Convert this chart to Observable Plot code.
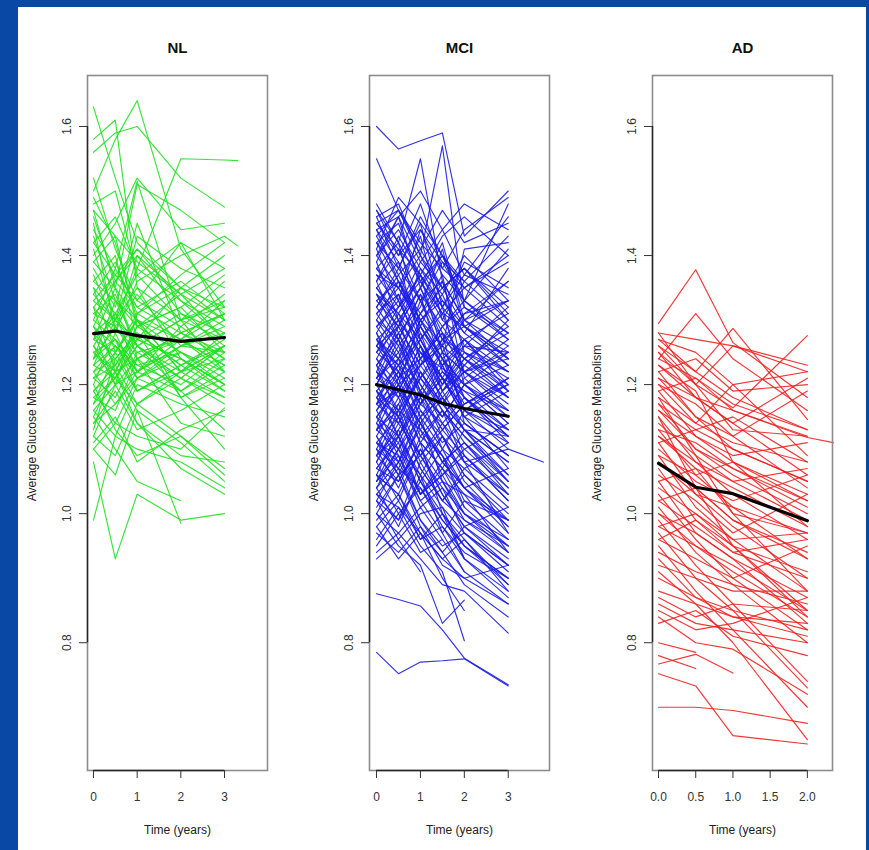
<!DOCTYPE html>
<html>
<head>
<meta charset="utf-8">
<script src="https://cdn.jsdelivr.net/npm/d3@7"></script>
<script src="https://cdn.jsdelivr.net/npm/@observablehq/plot@0.6"></script>
<style>
  html, body { margin: 0; padding: 0; }
  body { width: 869px; height: 850px; background: #0a48a6; position: relative; overflow: hidden; font-family: "Liberation Sans", Arial, sans-serif; }
  #sheet { position: absolute; left: 18px; top: 7px; width: 848px; height: 843px; background: #ffffff; }
  .panel { position: absolute; top: 7px; }
</style>
</head>
<body>
<div id="sheet"></div>
<div id="p0" class="panel" style="left:18px"></div>
<div id="p1" class="panel" style="left:300px"></div>
<div id="p2" class="panel" style="left:583px"></div>
<script>
// ---------- data ----------
const groups = ["NL", "MCI", "AD"];
const yTicks = [0.8, 1.0, 1.2, 1.4, 1.6];
const nlTicks = [0, 1, 2, 3];
const mciTicks = [0, 1, 2, 3];
const adTicks = [0, 0.5, 1, 1.5, 2];

const nlTimes = [0, 0.5, 1, 2, 3, 3.3];
const nlSubjects = [
  [1.63,1.52,1.42,1.35,null],[1.58,1.61,1.35,1.30,1.32],[1.50,1.58,1.64,1.41,1.32],
  [1.56,1.59,1.60,1.52,1.475],[1.33,1.30,1.38,1.55,1.548,1.547],[1.40,1.45,1.52,1.44,1.45],
  [1.30,1.38,1.515,1.30,1.22],[1.47,1.35,1.51,1.47,1.42],[1.08,0.93,1.03,0.99,1.00],
  [0.99,1.12,1.10,1.08,1.04],[1.10,1.06,1.16,0.985,null],[1.49,1.42,1.30,1.25,1.20],
  [1.45,1.28,1.36,1.40,1.43,1.415],[1.42,1.46,1.38,1.33,1.29],[1.38,1.32,1.45,1.28,1.31],
  [1.36,1.40,1.27,1.35,1.40],[1.35,1.25,1.30,1.22,1.26],[1.33,1.37,1.33,1.42,1.30],
  [1.32,1.22,1.24,1.27,1.33],[1.31,1.34,1.26,1.21,1.18],[1.29,1.36,1.41,1.33,1.27],
  [1.28,1.20,1.22,1.26,1.25],[1.27,1.30,1.35,1.24,1.20],[1.26,1.31,1.22,1.29,1.34],
  [1.25,1.27,1.19,1.22,1.24],[1.24,1.33,1.30,1.18,1.21],[1.23,1.21,1.27,1.31,1.28],
  [1.22,1.26,1.23,1.20,1.25],[1.21,1.18,1.25,1.27,1.22],[1.20,1.28,1.21,1.24,1.19],
  [1.19,1.23,1.17,1.21,1.26],[1.18,1.16,1.24,1.14,1.12],[1.17,1.25,1.19,1.23,null],
  [1.16,1.12,1.20,1.17,1.15],[1.15,1.22,1.14,1.09,1.08],[1.14,1.19,1.13,1.16,1.20],
  [1.12,1.09,1.17,1.12,1.06],[1.11,1.15,1.08,1.13,1.16],[1.13,1.24,1.28,1.18,1.10],
  [1.44,1.38,1.32,1.36,1.31],[1.41,1.30,1.43,1.38,1.35],[1.39,1.43,1.29,1.32,1.37],
  [1.37,1.29,1.34,1.26,1.28],[1.34,1.39,1.31,1.37,1.42],[1.46,1.36,1.40,1.31,1.26],
  [1.52,1.41,1.33,1.29,1.24],[1.48,1.50,1.37,1.42,1.38],[1.43,1.33,1.26,1.21,1.17],
  [1.26,1.20,1.31,1.35,1.30],[1.24,1.29,1.24,1.19,1.23],[1.22,1.17,1.21,1.26,1.29],
  [1.28,1.24,1.28,1.23,1.26],[1.30,1.27,1.23,1.25,null],[1.21,1.25,1.30,1.22,1.18],
  [1.19,1.14,1.21,1.25,1.22],[1.17,1.21,1.26,1.19,1.24],[1.27,1.35,1.24,1.28,1.31],
  [1.35,1.31,1.37,1.30,1.33],[1.32,1.28,1.40,1.34,1.27],[1.25,1.22,1.16,1.11,1.05],
  [1.20,1.13,1.09,1.12,1.07],[1.15,1.10,1.05,1.02,null],[1.12,1.20,1.14,1.07,1.03],
  [1.23,1.30,1.26,1.30,1.36],[1.29,1.23,1.29,1.32,1.25],[1.10,1.14,1.12,1.10,1.164],
  [1.26,1.22,1.29,1.25,1.21],[1.24,1.27,1.22,1.26,1.30],[1.22,1.24,1.19,1.23,1.27],
  [1.27,1.25,1.31,1.27,1.23],[1.25,1.21,1.26,1.22,1.28],[1.23,1.26,1.21,1.18,1.22],
  [1.29,1.26,1.22,1.27,1.31],[1.21,1.23,1.27,1.24,1.20],[1.31,1.29,1.25,1.21,1.26],
  [1.19,1.22,1.28,1.23,1.19],[1.34,1.30,1.27,1.24,1.20],[1.36,1.33,1.29,1.34,1.38],
  [1.18,1.21,1.17,1.22,1.26],[1.42,1.37,1.41,1.35,1.32],[1.14,1.17,1.22,1.19,1.13],
  [1.39,1.35,1.30,1.27,1.23],[1.32,1.36,1.32,1.28,1.24],[1.28,1.31,1.26,1.30,1.27],
  [1.16,1.20,1.24,1.28,1.25],[1.47,1.43,1.39,1.34,1.30]
];
const nlMeanTimes = [0, 0.5, 1, 2, 3];
const nlMean = [1.279, 1.283, 1.276, 1.267, 1.273];

const mciTimes = [0, 0.5, 1, 1.5, 2, 3, 3.8];
const mciSubjects = [
  [1.60,1.565,1.578,1.59,1.43,1.50],[1.55,1.47,1.40,1.35,1.38,1.30],[1.47,1.42,1.55,1.36,1.30,1.26],
  [1.46,1.48,1.40,1.57,1.32,null],[1.45,1.40,1.48,1.38,1.44,1.49],[1.44,1.46,1.35,1.42,1.30,1.33],
  [1.43,1.37,1.41,1.47,1.42,1.45],[1.42,1.45,1.36,1.30,1.27,1.22],[1.41,1.33,1.44,1.39,1.33,1.41],
  [1.40,1.44,1.38,1.34,1.40,1.33],[1.39,1.30,1.35,1.28,1.24,1.20],[1.38,1.42,1.29,1.36,1.25,1.19],
  [1.37,1.35,1.43,1.30,1.36,1.43],[1.36,1.28,1.32,1.41,1.29,1.24],[1.35,1.39,1.27,1.31,1.22,1.17],
  [1.34,1.31,1.37,1.25,1.30,1.36],[1.33,1.36,1.30,1.34,1.26,1.25],[1.32,1.27,1.34,1.22,1.18,1.12],
  [1.31,1.34,1.24,1.29,1.33,1.28],[1.30,1.25,1.31,1.37,1.21,1.15],[1.29,1.33,1.26,1.20,1.25,1.22],
  [1.28,1.22,1.29,1.24,1.16,1.10],[1.27,1.30,1.21,1.27,1.29,1.24],[1.26,1.21,1.28,1.19,1.23,1.30],
  [1.25,1.29,1.23,1.26,1.18,1.13],[1.24,1.18,1.25,1.21,1.27,1.19],[1.23,1.27,1.19,1.15,1.20,1.23],
  [1.22,1.16,1.24,1.28,1.14,1.09],[1.21,1.25,1.17,1.22,1.19,1.16],[1.20,1.14,1.22,1.16,1.12,1.05],
  [1.19,1.23,1.15,1.20,1.24,1.18],[1.18,1.12,1.19,1.13,1.17,1.21],[1.17,1.21,1.13,1.18,1.09,1.02],
  [1.16,1.10,1.17,1.23,1.15,1.11],[1.15,1.19,1.11,1.07,1.13,1.08],[1.14,1.08,1.16,1.12,1.05,0.98],
  [1.13,1.17,1.09,1.14,1.18,1.12],[1.12,1.06,1.14,1.08,1.11,1.04],[1.11,1.15,1.07,1.02,1.06,1.00],
  [1.10,1.04,1.12,1.09,1.01,0.95],[1.09,1.13,1.05,1.10,1.04,1.07],[1.08,1.02,1.10,1.03,0.98,0.93],
  [1.07,1.11,1.03,1.06,1.09,1.02],[1.06,1.00,1.04,0.99,0.95,0.89],[1.05,1.09,1.01,1.04,1.00,0.96],
  [1.04,0.98,1.06,0.97,1.02,0.99],[1.03,1.07,0.99,0.95,0.97,0.91],[1.02,0.96,1.00,1.01,0.93,0.87],
  [1.00,0.95,0.92,0.83,0.866,null],[0.99,1.03,0.96,0.98,0.94,0.90],[0.97,0.94,0.98,0.92,0.90,0.86],
  [0.95,1.00,0.94,0.96,0.91,null],[0.876,0.867,0.857,0.82,0.776,0.735],[0.785,0.752,0.77,0.772,0.775,0.733],
  [1.48,1.42,1.36,1.40,1.33,1.48],[1.46,1.38,1.45,1.32,1.37,1.46],[1.44,1.36,1.31,1.26,1.41,1.42],
  [1.40,1.35,1.30,1.33,1.28,1.38],[1.36,1.41,1.33,1.27,1.31,1.33],[1.33,1.29,1.38,1.32,1.20,1.25],
  [1.30,1.36,1.28,1.23,1.17,1.21],[1.27,1.24,1.33,1.25,1.22,1.18],[1.25,1.31,1.27,1.21,1.15,1.07],
  [1.23,1.19,1.26,1.17,1.21,1.26],[1.21,1.28,1.20,1.14,1.10,1.04],[1.19,1.15,1.21,1.25,1.16,1.13],
  [1.17,1.24,1.16,1.11,1.14,1.09],[1.15,1.12,1.18,1.10,1.07,1.01],[1.13,1.20,1.12,1.16,1.08,0.97],
  [1.11,1.08,1.15,1.05,1.03,0.94],[1.09,1.16,1.08,1.12,1.06,null],[1.07,1.05,1.11,1.00,0.96,0.88],
  [1.05,1.12,1.03,1.07,1.01,null],[1.03,0.99,1.08,1.02,0.99,0.95],[1.01,1.06,0.98,0.94,0.89,0.84],
  [0.98,0.93,0.97,0.90,0.85,null],[0.96,1.01,0.95,0.91,0.803,null],[0.94,0.97,0.93,0.89,0.88,0.815],
  [1.24,1.20,null,1.26,1.23,null],[1.35,1.30,1.25,null,1.20,1.14],[1.29,1.24,1.20,1.15,null,null],
  [1.18,1.23,1.19,null,null,null],[1.12,1.07,1.04,0.98,0.93,null],[1.26,1.32,1.37,1.31,1.35,1.40],
  [1.22,1.29,1.35,1.27,1.24,1.28],[1.14,1.21,1.27,1.20,1.26,1.22],[1.10,1.17,1.23,1.18,1.22,1.25],
  [1.06,1.13,1.19,1.15,1.20,1.16],[1.16,1.20,1.30,1.24,1.27,1.31],[1.20,1.26,1.31,1.35,1.29,1.33],
  [1.08,1.14,1.09,1.13,1.17,1.20],[1.02,1.08,1.13,1.06,1.10,1.14],[1.31,1.26,1.19,1.12,1.06,0.99],
  [1.28,1.20,1.14,1.09,1.02,0.96],[1.34,1.27,1.21,1.16,1.11,1.03],[1.38,1.33,1.26,1.19,1.13,1.06],
  [1.19,1.12,1.05,1.00,0.95,0.90],[1.23,1.15,1.09,1.03,0.98,0.92],[1.15,1.09,1.02,0.97,0.91,0.86],
  [1.42,1.36,1.29,1.24,1.18,1.11],[1.26,1.29,1.23,1.29,1.32,1.27],[1.21,1.18,1.23,1.27,1.25,1.21],
  [1.17,1.19,1.14,1.19,1.22,1.24],[1.13,1.10,1.15,1.18,1.13,1.12],[1.32,1.38,1.33,1.39,1.36,1.30],
  [1.37,1.32,1.39,1.35,1.38,1.32],[1.45,1.41,1.37,1.43,1.46,1.40],[1.43,1.47,1.42,1.38,1.35,1.29],
  [1.25,1.22,1.17,1.14,1.08,1.10,1.08],[1.06,1.03,0.97,0.93,0.90,0.92],[1.00,0.97,1.01,0.96,null,null],
  [0.93,0.96,0.91,null,null,null],[1.39,1.46,1.50,1.44,1.48,1.44],[1.41,1.49,1.45,1.40,1.36,null],
  [1.29,1.32,1.36,1.31,1.29,1.25],[1.11,1.06,1.09,1.04,0.97,0.92],[1.04,1.08,1.02,1.05,0.99,0.94],
  [1.27,1.23,1.27,1.21,1.19,1.13],[1.18,1.22,1.17,1.21,1.16,1.20],[1.09,1.05,1.11,1.07,1.03,0.99],
  [1.47,1.40,1.44,1.37,1.33,1.27],[1.45,1.47,1.41,1.35,1.38,1.31],[1.42,1.38,1.46,1.40,1.35,1.39],
  [1.40,1.46,1.39,1.44,1.37,1.34],[1.38,1.35,1.40,1.33,1.29,1.23],[1.36,1.43,1.37,1.32,1.39,1.35],
  [1.34,1.29,1.35,1.40,1.32,1.28],[1.32,1.37,1.30,1.26,1.31,1.36],[1.30,1.27,1.34,1.29,1.24,1.19],
  [1.28,1.34,1.27,1.32,1.28,1.23],[1.26,1.23,1.30,1.24,1.20,1.15],[1.24,1.30,1.25,1.19,1.24,1.29],
  [1.22,1.19,1.26,1.21,1.16,1.12],[1.20,1.27,1.18,1.24,1.20,1.14],[1.18,1.15,1.22,1.17,1.13,1.08],
  [1.16,1.22,1.15,1.10,1.16,1.21],[1.14,1.11,1.18,1.13,1.09,1.03],[1.12,1.18,1.11,1.16,1.12,1.06],
  [1.10,1.07,1.14,1.08,1.04,0.98],[1.08,1.15,1.07,1.02,1.07,1.11],[1.06,1.03,1.10,1.05,1.00,0.94],
  [1.04,1.10,1.03,1.08,1.04,0.97],[1.02,0.99,1.05,0.99,0.95,0.90],[1.00,1.06,0.99,0.94,0.98,1.01],
  [0.98,1.02,0.96,1.00,0.93,0.88],[1.35,1.31,1.24,1.28,1.22,1.16],[1.31,1.35,1.29,1.23,1.27,1.20],
  [1.27,1.21,1.24,1.18,1.14,1.09],[1.23,1.28,1.22,1.17,1.13,1.05],[1.19,1.16,1.13,1.09,1.04,0.99],
  [1.15,1.20,1.14,1.08,1.11,1.05],[1.11,1.09,1.03,1.06,1.00,0.95],[1.07,1.12,1.06,1.01,0.97,0.92],
  [1.03,1.01,0.97,0.93,0.96,0.89],[1.44,1.39,1.33,1.36,1.30,1.24],[1.21,1.24,1.29,1.23,1.26,1.32],
  [1.17,1.14,1.19,1.25,1.22,1.27],[1.13,1.16,1.21,1.17,1.23,1.18],[1.09,1.12,1.17,1.21,1.15,1.19],
  [1.05,1.10,1.06,1.12,1.08,1.03]
];
const mciMeanTimes = [0, 0.5, 1, 1.5, 2, 3];
const mciMean = [1.200, 1.192, 1.184, 1.171, 1.163, 1.151];

const adTimes = [0, 0.5, 1, 2, 2.35];
const adSubjects = [
  [1.295,1.378,1.265,1.18],[1.24,1.31,1.24,1.16],[1.28,1.27,1.26,1.23],[1.27,1.25,1.20,1.22],
  [1.26,1.22,1.287,1.146],[1.25,1.20,1.164,1.276],[1.24,1.21,1.16,1.118,1.11],[1.23,1.18,1.14,1.21],
  [1.22,1.24,1.19,1.20],[1.21,1.15,1.10,1.05],[1.20,1.17,1.12,1.19],[1.19,1.12,1.08,1.02],
  [1.18,1.14,1.20,1.09],[1.17,1.10,1.06,1.00],[1.16,1.12,1.09,1.11],[1.15,1.08,1.03,0.96],
  [1.14,1.09,1.05,1.07],[1.13,1.06,1.01,0.93],[1.12,1.07,1.04,0.98],[1.11,1.03,0.98,0.90],
  [1.10,1.05,1.02,1.06],[1.09,1.01,0.96,0.88],[1.08,1.04,0.99,0.94],[1.07,0.99,0.95,0.85],
  [1.06,1.02,0.97,1.03],[1.05,0.97,0.93,0.83],[1.04,1.00,0.95,0.91],[1.03,0.96,0.90,0.82],
  [1.02,0.98,0.94,0.96],[1.01,0.94,0.89,0.80],[1.00,0.97,0.93,0.87],[0.99,0.92,0.86,0.74],
  [0.98,0.95,0.91,0.84],[0.97,0.90,0.85,0.73],[0.96,0.93,0.90,0.95],[0.95,0.88,0.82,0.70],
  [0.94,0.91,0.89,0.86],[0.93,0.87,0.84,0.81],[0.92,0.90,0.88,0.88],[0.91,0.86,0.80,0.65],
  [0.90,0.87,0.85,0.82],[0.88,0.86,0.84,0.83],[0.87,0.84,0.86,0.85],[0.86,0.83,0.82,0.80],
  [0.85,0.82,0.83,0.87],[0.84,0.80,0.79,0.72],[0.83,0.85,0.81,0.78],[0.80,0.785,null,null],
  [0.78,0.76,null,null],[0.767,0.782,0.753,null],[0.752,0.733,0.656,0.643],[0.70,0.70,0.695,0.675],
  [1.26,1.20,1.26,1.22],[1.19,1.21,1.17,1.13],[1.17,1.13,1.15,1.08],[1.13,1.11,1.07,1.01],
  [1.11,1.13,1.10,1.05],[1.09,1.06,1.08,1.03],[1.05,1.07,1.00,0.97],[1.02,1.04,0.99,0.93],
  [0.98,1.00,0.96,0.97],[0.96,0.99,0.94,0.90],[1.23,1.19,1.08,0.98],[1.18,1.09,1.00,0.88],
  [1.15,1.04,0.95,0.84],[1.28,1.20,1.13,1.12],[1.21,1.18,null,1.12],
  [1.27,1.22,1.18,1.13],[1.25,1.18,1.14,1.06],[1.22,1.15,1.12,1.04],[1.20,1.14,1.11,1.08],
  [1.16,1.10,1.07,1.02],[1.12,1.08,1.05,0.99],[1.08,1.03,1.01,0.97],[1.00,0.95,0.92,0.85]
];
const adMeanTimes = [0, 0.5, 1, 2];
const adMean = [1.078, 1.041, 1.031, 0.989];

// ---------- drawing ----------
const yDomain = [0.602, 1.679];
const font = '"Liberation Sans", Arial, sans-serif';

function longRows(times, subjects) {
  const out = [];
  subjects.forEach((row, id) => row.forEach((v, j) => {
    if (v != null) out.push({id, t: times[j], v});
  }));
  return out;
}

function panel({title, times, subjects, meanTimes, mean, color, xDomain, xTicks, xFormat, marginLeft, width}) {
  const rows = longRows(times, subjects);
  const meanRows = meanTimes.map((t, i) => ({t, v: mean[i]}));
  return Plot.plot({
    width, height: 843,
    marginLeft, marginRight: width - marginLeft - 180, marginTop: 68, marginBottom: 80,
    x: {domain: xDomain, axis: null},
    y: {domain: yDomain, axis: null},
    style: {background: "transparent", fontFamily: font, overflow: "visible"},
    marks: [
      Plot.line(rows, {x: "t", y: "v", z: "id", stroke: color, strokeWidth: 1.15, strokeOpacity: 0.9}),
      Plot.line(meanRows, {x: "t", y: "v", stroke: "#000", strokeWidth: 3.2}),
      Plot.frame({stroke: "#8c8c8c", strokeWidth: 1.6}),
      Plot.ruleY([yDomain[0]], {x1: xTicks[0], x2: xTicks[xTicks.length - 1], stroke: "#262626", strokeWidth: 1.4}),
      Plot.ruleX([xDomain[0]], {y1: yTicks[0], y2: yTicks[yTicks.length - 1], stroke: "#262626", strokeWidth: 1.4}),
      Plot.axisX({ticks: xTicks, tickFormat: xFormat, tickSize: 8, tickPadding: 14, fontSize: 12, stroke: "#333", fill: "#333", label: null}),
      Plot.axisY({ticks: yTicks, tickSize: 8, stroke: "#333", fill: "none", label: null}),
      Plot.text(yTicks, {y: d => d, text: d => d3.format(".1f")(d), frameAnchor: "left", dx: -20, rotate: -90, textAnchor: "middle", fontSize: 12, fill: "#333"}),
      Plot.text(["Average Glucose Metabolism"], {text: d => d, frameAnchor: "left", dx: -55, rotate: -90, textAnchor: "middle", fontSize: 12, fill: "#222"}),
      Plot.text([title], {text: d => d, frameAnchor: "top", dy: -33, fontSize: 15, fontWeight: "bold", fill: "#111"}),
      Plot.text(["Time (years)"], {text: d => d, frameAnchor: "bottom", dy: 63, fontSize: 12, fill: "#222"})
    ]
  });
}

const fmtInt = d3.format("d");
const fmt1 = d3.format(".1f");

document.getElementById("p0").append(panel({
  title: groups[0], times: nlTimes, subjects: nlSubjects, meanTimes: nlMeanTimes, mean: nlMean,
  color: "#22e022", xDomain: [-0.137, 3.984], xTicks: nlTicks, xFormat: fmtInt, marginLeft: 69, width: 270
}));
document.getElementById("p1").append(panel({
  title: groups[1], times: mciTimes, subjects: mciSubjects, meanTimes: mciMeanTimes, mean: mciMean,
  color: "#1c1ce8", xDomain: [-0.16, 3.94], xTicks: mciTicks, xFormat: fmtInt, marginLeft: 69, width: 270
}));
document.getElementById("p2").append(panel({
  title: groups[2], times: adTimes, subjects: adSubjects, meanTimes: adMeanTimes, mean: adMean,
  color: "#f22020", xDomain: [-0.081, 2.338], xTicks: adTicks, xFormat: fmt1, marginLeft: 69, width: 270
}));
</script>
</body>
</html>
